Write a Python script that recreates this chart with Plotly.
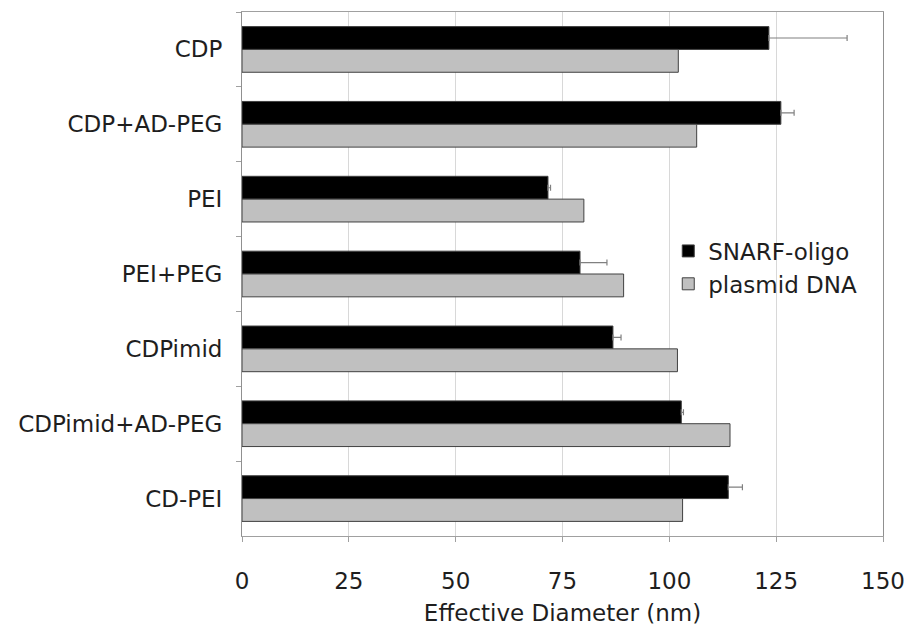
import plotly.graph_objects as go

categories = ["CDP", "CDP+AD-PEG", "PEI", "PEI+PEG", "CDPimid", "CDPimid+AD-PEG", "CD-PEI"]
snarf_oligo = [123.3, 126.1, 71.6, 79.1, 86.8, 102.8, 113.8]
snarf_err = [18.3, 3.1, 0.6, 6.3, 1.9, 0.5, 3.3]
plasmid_dna = [102.1, 106.4, 80.0, 89.3, 101.9, 114.2, 103.1]
x_ticks = [0, 25, 50, 75, 100, 125, 150]

FONT = "DejaVu Sans"
TXT = "#1e1e1e"

fig = go.Figure()
fig.add_trace(go.Bar(
    name="SNARF-oligo", y=categories, x=snarf_oligo, orientation="h",
    marker=dict(color="#000000", line=dict(color="#404040", width=1)),
    error_x=dict(type="data", symmetric=False, array=snarf_err,
                 arrayminus=[0] * len(snarf_err), color="#808080",
                 thickness=1.2, width=3),
))
fig.add_trace(go.Bar(
    name="plasmid DNA", y=categories, x=plasmid_dna, orientation="h",
    marker=dict(color="#c0c0c0", line=dict(color="#404040", width=1)),
))

fig.update_layout(
    width=916, height=633,
    margin=dict(l=242, r=23, t=11, b=93),
    paper_bgcolor="white", plot_bgcolor="white",
    barmode="group", bargap=0.39, bargroupgap=0,
    font=dict(family=FONT, size=23, color=TXT),
    showlegend=True,
    legend=dict(x=0.665, y=0.585, xanchor="left", yanchor="top",
                bgcolor="rgba(255,255,255,0)", borderwidth=0,
                font=dict(family=FONT, size=23, color=TXT),
                tracegroupgap=0, itemwidth=30),
)
fig.update_xaxes(
    range=[0, 150], tickvals=x_ticks, ticktext=[str(v) for v in x_ticks],
    showgrid=True, gridcolor="#d8d8d8", gridwidth=1,
    showline=True, linecolor="#a0a0a0", linewidth=1, mirror=True,
    ticks="outside", ticklen=5, tickcolor="#a0a0a0",
    ticklabelstandoff=19,
    zeroline=False,
    title=dict(text="Effective Diameter (nm)", standoff=12,
               font=dict(family=FONT, size=23, color=TXT)),
)
fig.update_yaxes(
    autorange="reversed", showgrid=False,
    showline=True, linecolor="#909090", linewidth=1, mirror=True,
    ticks="outside", ticklen=5, tickcolor="#a0a0a0", tickson="boundaries",
    ticklabelstandoff=14,
)

fig.write_html("out.html")
